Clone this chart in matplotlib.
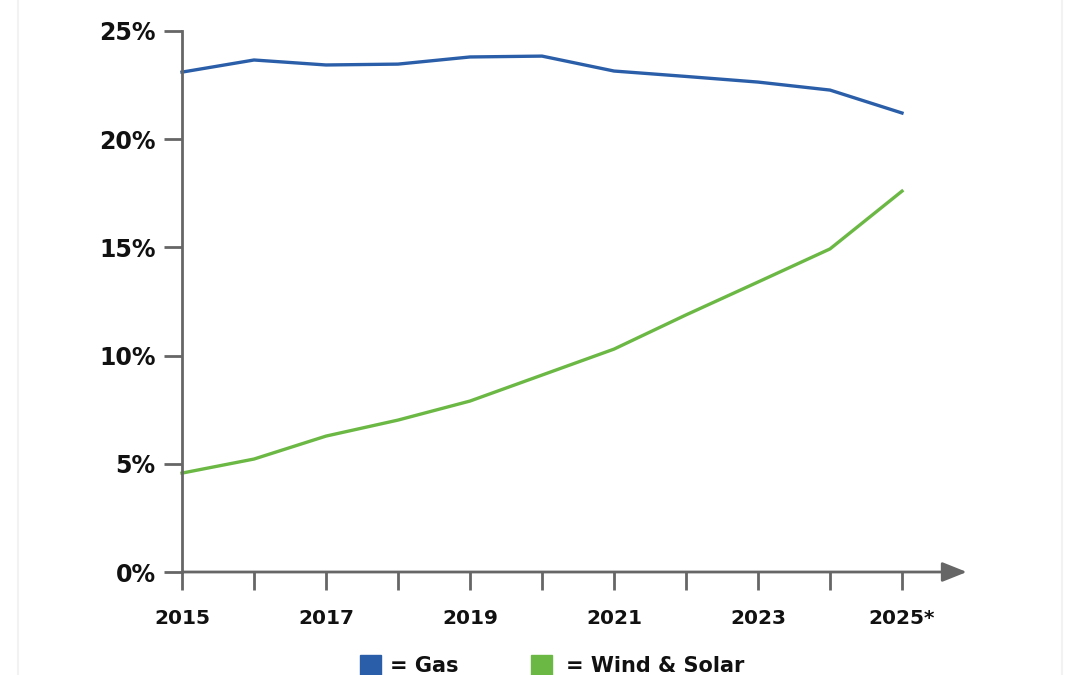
import matplotlib
matplotlib.use("Agg")
import matplotlib.pyplot as plt
from matplotlib.patches import Rectangle
from matplotlib.lines import Line2D

years = [2015, 2016, 2017, 2018, 2019, 2020, 2021, 2022, 2023, 2024, 2025]
gas = [23.1, 23.66, 23.43, 23.47, 23.8, 23.84, 23.15, 22.9, 22.64, 22.27, 21.21]
wind_solar = [4.57, 5.22, 6.28, 7.02, 7.9, 9.1, 10.3, 11.88, 13.4, 14.93, 17.6]
x_tick_labels = ["2015", "", "2017", "", "2019", "", "2021", "", "2023", "", "2025*"]
y_ticks = [0, 5, 10, 15, 20, 25]
y_tick_labels = ["0%", "5%", "10%", "15%", "20%", "25%"]

BLUE = "#2B5EA8"
GREEN = "#6BB844"
AX = "#666666"
plt.rcParams["font.family"] = ["DejaVu Sans"]

fig = plt.figure(figsize=(10.8, 6.75), dpi=100)
ax = fig.add_axes([182/1080, 1-572/675, (965-182)/1080, (572-31)/675])
ax.set_xlim(2015, 2025.875)
ax.set_ylim(0, 25)

ax.plot(years, gas, color=BLUE, lw=2.4, solid_joinstyle="round", clip_on=False)
ax.plot(years, wind_solar, color=GREEN, lw=2.4, solid_joinstyle="round", clip_on=False)

for s in ["top", "right", "bottom"]:
    ax.spines[s].set_visible(False)
ax.spines["left"].set_color(AX)
ax.spines["left"].set_linewidth(2.0)

ax.set_xticks(years)
ax.set_xticklabels(x_tick_labels)
ax.set_yticks(y_ticks)
ax.set_yticklabels(y_tick_labels)
ax.tick_params(axis="x", length=13, width=2.0, color=AX, pad=14, labelsize=14.5)
ax.tick_params(axis="y", length=13, width=2.0, color=AX, pad=6, labelsize=17)
for lab in ax.get_xticklabels() + ax.get_yticklabels():
    lab.set_fontweight("bold")
    lab.set_color("#111111")

# x axis with arrow
ax.annotate("", xy=(2025.9, 0), xytext=(2015, 0), xycoords="data",
            arrowprops=dict(arrowstyle="-|>,head_length=1.5,head_width=0.6",
                            color=AX, lw=2.0, shrinkA=0, shrinkB=0),
            annotation_clip=False)

# faint frame lines
fig.add_artist(Line2D([18/1080, 18/1080], [0, 1], color="#f2f2f2", lw=1.5))
fig.add_artist(Line2D([1062/1080, 1062/1080], [0, 1], color="#f2f2f2", lw=1.5))

# legend
fig.add_artist(Rectangle((360/1080, 0), 21/1080, 20/675, color=BLUE, transform=fig.transFigure))
fig.text(390/1080, 9/675, "= Gas", fontsize=15, fontweight="bold", va="center", color="#111111")
fig.add_artist(Rectangle((531/1080, 0), 21/1080, 20/675, color=GREEN, transform=fig.transFigure))
fig.text(566/1080, 9/675, "= Wind & Solar", fontsize=15, fontweight="bold", va="center", color="#111111")

fig.savefig("out.png", dpi=100)
